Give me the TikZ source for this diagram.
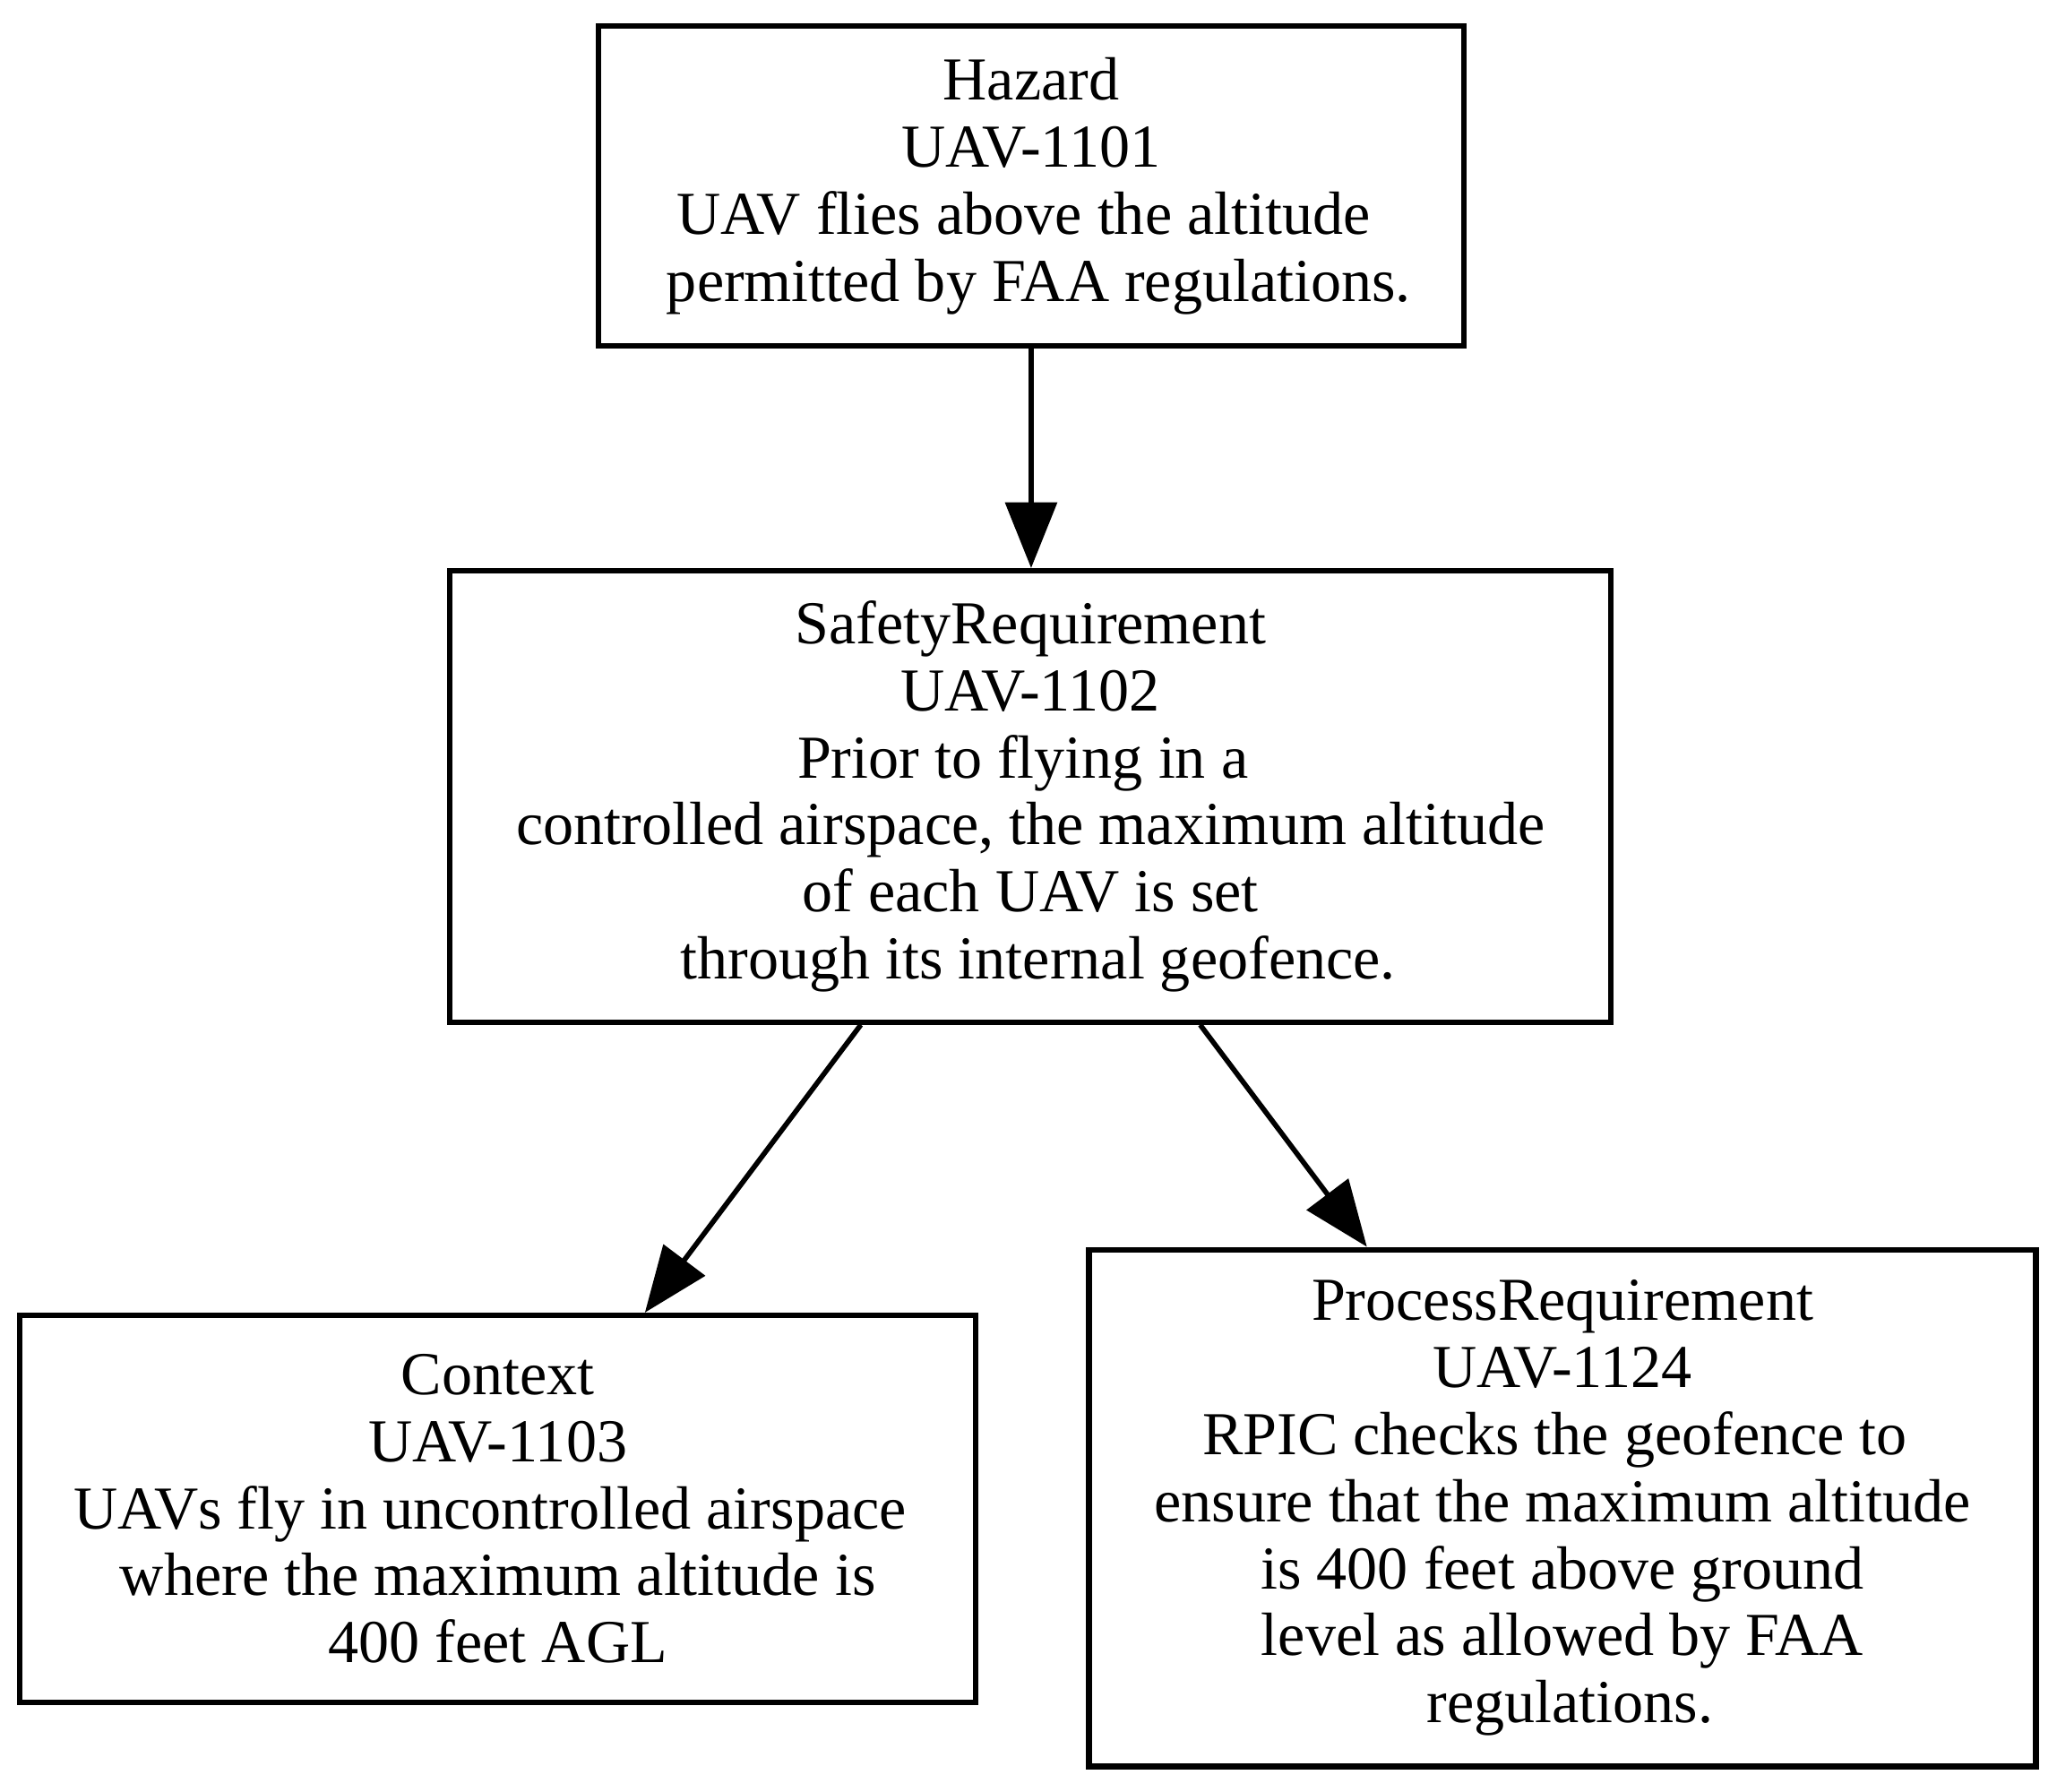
\documentclass[tikz,border=0pt]{standalone}
\usepackage{fontspec}
\setmainfont{Liberation Serif}
\usepackage{tikz}
\usetikzlibrary{arrows.meta}

\tikzset{
    reqbox/.style={draw, line width=1.2pt, align=center, inner sep=0pt,
        font=\fontsize{13.2}{14.5}\selectfont},
    link/.style={line width=1.1pt, -{Triangle[length=0.5cm, width=0.39cm]}}
}

\begin{document}
\begin{tikzpicture}
    \useasboundingbox (0.0, 0.0) rectangle (15.64, 13.62);

    \node [reqbox, minimum width=6.58cm, minimum height=2.43cm] (hazard) at (7.84, 12.205)
        {Hazard\\UAV-1101\\UAV flies above the altitude\mbox{ }\\\mbox{ }permitted by FAA regulations.};

    \node [reqbox, minimum width=8.83cm, minimum height=3.43cm] (safety_req) at (7.835, 7.565)
        {SafetyRequirement\\UAV-1102\\Prior to flying in a\mbox{ }\\controlled airspace, the maximum altitude\\of each UAV is set\\\mbox{ }through its internal geofence.};

    \node [reqbox, minimum width=7.27cm, minimum height=2.94cm] (context) at (3.785, 2.15)
        {Context\\UAV-1103\\UAVs fly in uncontrolled airspace\mbox{ }\\where the maximum altitude is\\400 feet AGL};

    \node [reqbox, minimum width=7.20cm, minimum height=3.93cm] (process_req) at (11.88, 2.155)
        {ProcessRequirement\\UAV-1124\\RPIC checks the geofence to\mbox{ }\\ensure that the maximum altitude\\is 400 feet above ground\\level as allowed by FAA\\\mbox{ }regulations.};

    \draw [link] (hazard.south) -- (hazard.south |- safety_req.north);
    \draw [link] ([shift={(-1.29, 0.0)}]safety_req.south) -- (context);
    \draw [link] ([shift={(1.29, 0.0)}]safety_req.south) -- (process_req);

\end{tikzpicture}
\end{document}
